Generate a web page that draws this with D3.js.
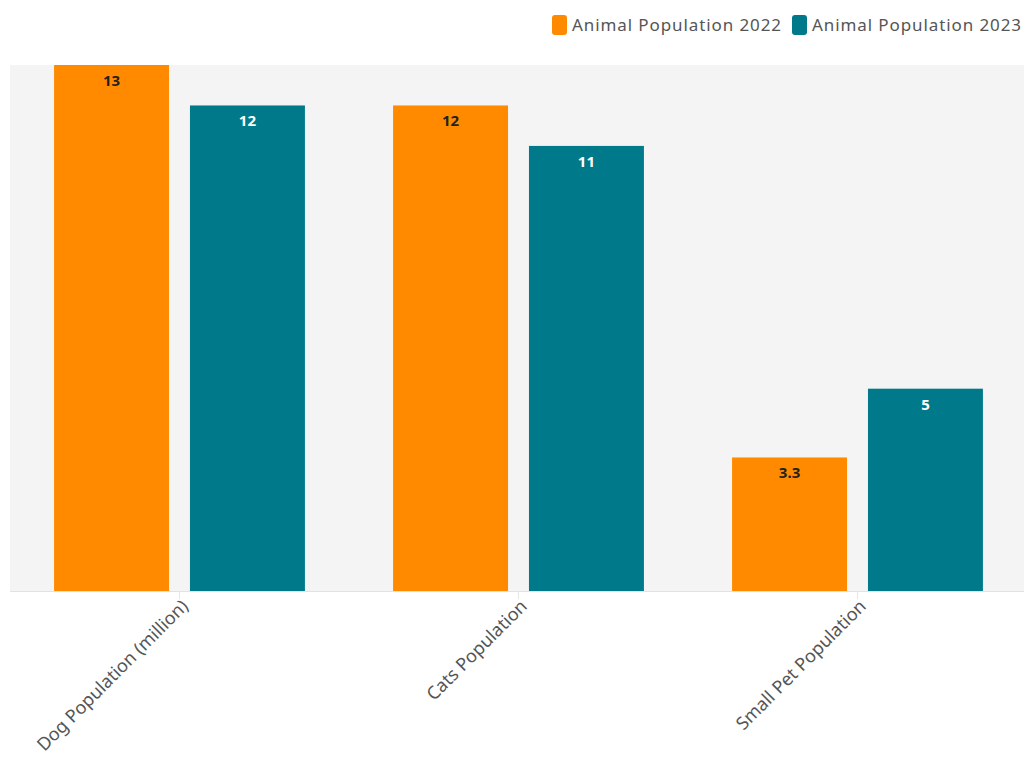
<!DOCTYPE html>
<html>
<head>
<meta charset="utf-8">
<script src="https://cdn.jsdelivr.net/npm/d3@7"></script>
<style>
  body { margin: 0; background: #fff; }
  #vis-bar { width: 1024px; height: 765px; }
  text { font-family: "Noto Sans", "Open Sans", sans-serif; }
</style>
</head>
<body>
<div id="vis-bar"></div>
<script>
// dados do gráfico
const categorias = ["Dog Population (million)", "Cats Population", "Small Pet Population"];
const series = ["Animal Population 2022", "Animal Population 2023"];
const valores2022 = [13, 12, 3.3];
const valores2023 = [12, 11, 5];
const cores = ["#FF8A00", "#007A8A"];

const width = 1024, height = 765;
const margins = { top: 65, right: -3, bottom: 174, left: 10 };

const svg = d3.select("#vis-bar").append("svg")
    .attr("width", width)
    .attr("height", height);

const innerW = width - margins.left - margins.right;
const innerH = height - margins.top - margins.bottom;

const g = svg.append("g")
    .attr("transform", `translate(${margins.left}, ${margins.top})`);

// fundo da área do gráfico
g.append("rect")
    .attr("width", 1014)
    .attr("height", innerH)
    .attr("fill", "#F4F4F4");

const x0 = d3.scaleBand()
    .domain(categorias)
    .range([0, innerW])
    .paddingInner(0.26)
    .paddingOuter(0.13);

const x1 = d3.scaleBand()
    .domain(series)
    .range([0, x0.bandwidth()])
    .paddingInner(0.154)
    .paddingOuter(0);

const y = d3.scaleLinear()
    .domain([0, 13])
    .range([innerH, 0]);

const dados = categorias.map((c, i) => ({
    categoria: c,
    valores: [valores2022[i], valores2023[i]]
}));

const grupos = g.selectAll("g.grupo")
    .data(dados)
    .enter()
    .append("g")
    .attr("class", "grupo")
    .attr("transform", d => `translate(${x0(d.categoria)}, 0)`);

const barras = grupos.selectAll("g.barra")
    .data(d => d.valores.map((v, i) => ({ serie: series[i], valor: v, idx: i })))
    .enter()
    .append("g")
    .attr("class", "barra");

barras.append("rect")
    .attr("x", d => x1(d.serie))
    .attr("y", d => y(d.valor))
    .attr("width", x1.bandwidth())
    .attr("height", d => innerH - y(d.valor))
    .attr("fill", d => cores[d.idx]);

barras.append("text")
    .attr("x", d => x1(d.serie) + x1.bandwidth() / 2)
    .attr("y", d => y(d.valor) + 21)
    .attr("text-anchor", "middle")
    .attr("font-size", "15px")
    .attr("font-weight", "bold")
    .attr("fill", d => d.idx === 0 ? "#222" : "#fff")
    .text(d => d.valor);

// eixo x
const eixoX = g.append("g")
    .attr("transform", `translate(0, ${innerH})`)
    .call(d3.axisBottom(x0).tickSize(8).tickSizeOuter(0));

eixoX.select(".domain").attr("stroke", "#e2e2e2").attr("d", `M0,0.5H1014`);
eixoX.selectAll(".tick line").attr("stroke", "#e6e6e6");
eixoX.selectAll(".tick text")
    .attr("font-size", "18px")
    .attr("fill", "#555")
    .attr("text-anchor", "end")
    .attr("transform", "translate(1, 2) rotate(-45)")
    .attr("dy", "0.35em")
    .attr("x", -4)
    .attr("y", 10);

// legenda
const legenda = svg.append("g");
const posLegenda = [552, 792];
series.forEach((s, i) => {
    const item = legenda.append("g")
        .attr("transform", `translate(${posLegenda[i]}, 15)`);
    item.append("rect")
        .attr("width", 15)
        .attr("height", 20)
        .attr("rx", 3)
        .attr("fill", cores[i]);
    item.append("text")
        .attr("x", 20)
        .attr("y", 16)
        .attr("font-size", "17px")
        .attr("fill", "#555")
        .attr("textLength", 209)
        .text(s);
});
</script>
</body>
</html>
